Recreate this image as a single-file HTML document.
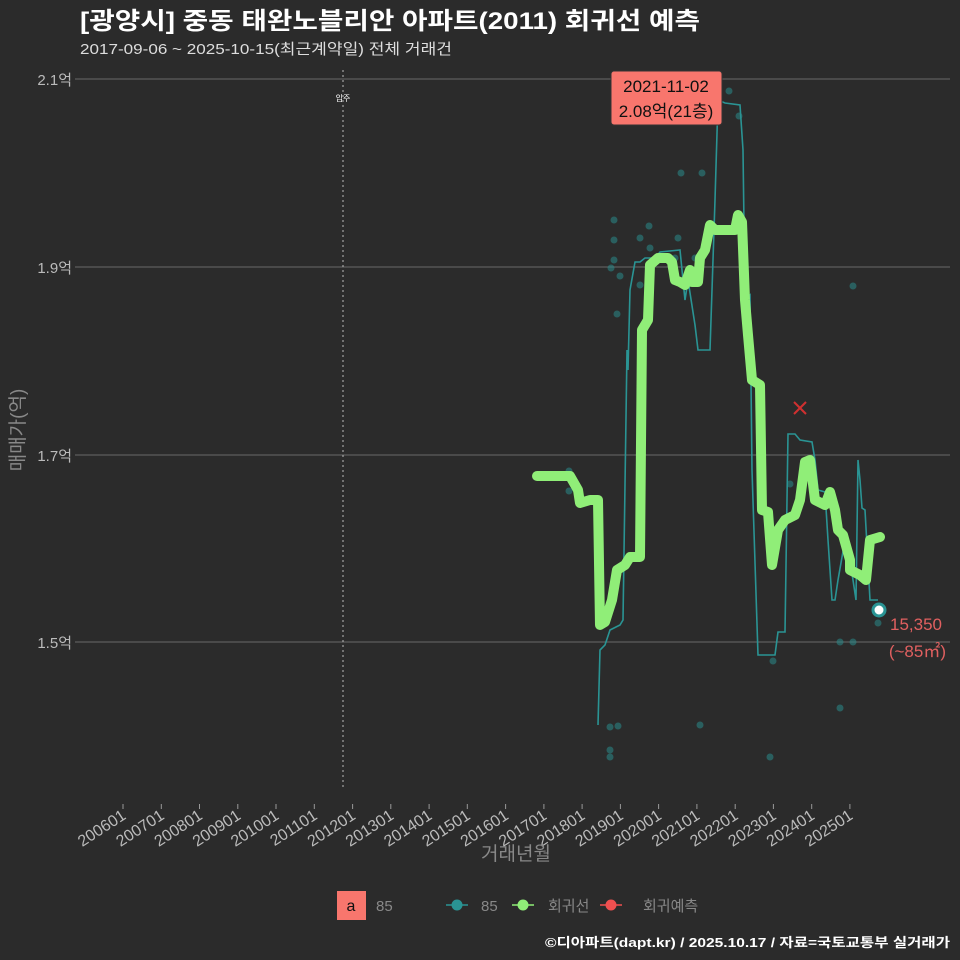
<!DOCTYPE html>
<html><head><meta charset="utf-8"><style>
body{margin:0;background:#2b2b2b;}
svg{display:block;font-family:"Liberation Sans","Noto Sans CJK KR",sans-serif;}
</style></head><body>
<svg width="960" height="960" viewBox="0 0 960 960">
<rect width="960" height="960" fill="#2b2b2b"/>
<text x="80" y="29" font-size="24" font-weight="bold" fill="#fff" textLength="620" lengthAdjust="spacingAndGlyphs">[광양시] 중동 태완노블리안 아파트(2011) 회귀선 예측</text>
<text x="80" y="54" font-size="15" fill="#ddd" textLength="372" lengthAdjust="spacingAndGlyphs">2017-09-06 ~ 2025-10-15(최근계약일) 전체 거래건</text>
<g stroke="#6a6a6a" stroke-width="1">
<line x1="75" y1="79" x2="950" y2="79"/><line x1="75" y1="267" x2="950" y2="267"/>
<line x1="75" y1="455" x2="950" y2="455"/><line x1="75" y1="642" x2="950" y2="642"/>
</g>
<g font-size="15" fill="#bbb" text-anchor="end">
<text x="72" y="85">2.1억</text><text x="72" y="273">1.9억</text><text x="72" y="461">1.7억</text><text x="72" y="648">1.5억</text>
</g>
<text transform="translate(24,430) rotate(-90)" font-size="19" fill="#888" text-anchor="middle">매매가(억)</text>
<line x1="343" y1="70" x2="343" y2="790" stroke="#bbb" stroke-dasharray="2,3"/>
<text x="343" y="101" font-size="8" fill="#fff" text-anchor="middle">입주</text>
<g stroke="#999" font-size="16" fill="#bbb">
<line x1="123" y1="804" x2="123" y2="809"/><text x="127" y="818" text-anchor="end" stroke="none" transform="rotate(-33 127 818)">200601</text>
<line x1="161.3" y1="804" x2="161.3" y2="809"/><text x="165.3" y="818" text-anchor="end" stroke="none" transform="rotate(-33 165.3 818)">200701</text>
<line x1="199.5" y1="804" x2="199.5" y2="809"/><text x="203.5" y="818" text-anchor="end" stroke="none" transform="rotate(-33 203.5 818)">200801</text>
<line x1="237.8" y1="804" x2="237.8" y2="809"/><text x="241.8" y="818" text-anchor="end" stroke="none" transform="rotate(-33 241.8 818)">200901</text>
<line x1="276" y1="804" x2="276" y2="809"/><text x="280" y="818" text-anchor="end" stroke="none" transform="rotate(-33 280 818)">201001</text>
<line x1="314.3" y1="804" x2="314.3" y2="809"/><text x="318.3" y="818" text-anchor="end" stroke="none" transform="rotate(-33 318.3 818)">201101</text>
<line x1="352.6" y1="804" x2="352.6" y2="809"/><text x="356.6" y="818" text-anchor="end" stroke="none" transform="rotate(-33 356.6 818)">201201</text>
<line x1="390.8" y1="804" x2="390.8" y2="809"/><text x="394.8" y="818" text-anchor="end" stroke="none" transform="rotate(-33 394.8 818)">201301</text>
<line x1="429.1" y1="804" x2="429.1" y2="809"/><text x="433.1" y="818" text-anchor="end" stroke="none" transform="rotate(-33 433.1 818)">201401</text>
<line x1="467.3" y1="804" x2="467.3" y2="809"/><text x="471.3" y="818" text-anchor="end" stroke="none" transform="rotate(-33 471.3 818)">201501</text>
<line x1="505.6" y1="804" x2="505.6" y2="809"/><text x="509.6" y="818" text-anchor="end" stroke="none" transform="rotate(-33 509.6 818)">201601</text>
<line x1="543.9" y1="804" x2="543.9" y2="809"/><text x="547.9" y="818" text-anchor="end" stroke="none" transform="rotate(-33 547.9 818)">201701</text>
<line x1="582.1" y1="804" x2="582.1" y2="809"/><text x="586.1" y="818" text-anchor="end" stroke="none" transform="rotate(-33 586.1 818)">201801</text>
<line x1="620.4" y1="804" x2="620.4" y2="809"/><text x="624.4" y="818" text-anchor="end" stroke="none" transform="rotate(-33 624.4 818)">201901</text>
<line x1="658.6" y1="804" x2="658.6" y2="809"/><text x="662.6" y="818" text-anchor="end" stroke="none" transform="rotate(-33 662.6 818)">202001</text>
<line x1="696.9" y1="804" x2="696.9" y2="809"/><text x="700.9" y="818" text-anchor="end" stroke="none" transform="rotate(-33 700.9 818)">202101</text>
<line x1="735.2" y1="804" x2="735.2" y2="809"/><text x="739.2" y="818" text-anchor="end" stroke="none" transform="rotate(-33 739.2 818)">202201</text>
<line x1="773.4" y1="804" x2="773.4" y2="809"/><text x="777.4" y="818" text-anchor="end" stroke="none" transform="rotate(-33 777.4 818)">202301</text>
<line x1="811.7" y1="804" x2="811.7" y2="809"/><text x="815.7" y="818" text-anchor="end" stroke="none" transform="rotate(-33 815.7 818)">202401</text>
<line x1="849.9" y1="804" x2="849.9" y2="809"/><text x="853.9" y="818" text-anchor="end" stroke="none" transform="rotate(-33 853.9 818)">202501</text>
</g>
<text x="516" y="860" font-size="19" fill="#888" text-anchor="middle">거래년월</text>
<g fill="#2a8a8a" opacity="0.55">
<circle cx="569" cy="471" r="3.5"/><circle cx="569" cy="491" r="3.5"/><circle cx="610" cy="727" r="3.5"/><circle cx="610" cy="750" r="3.5"/><circle cx="610" cy="757" r="3.5"/><circle cx="618" cy="726" r="3.5"/><circle cx="614" cy="220" r="3.5"/><circle cx="614" cy="240" r="3.5"/><circle cx="614" cy="260" r="3.5"/><circle cx="611" cy="268" r="3.5"/><circle cx="620" cy="276" r="3.5"/><circle cx="617" cy="314" r="3.5"/><circle cx="640" cy="285" r="3.5"/><circle cx="640" cy="238" r="3.5"/><circle cx="650" cy="248" r="3.5"/><circle cx="649" cy="226" r="3.5"/><circle cx="678" cy="238" r="3.5"/><circle cx="681" cy="173" r="3.5"/><circle cx="702" cy="173" r="3.5"/><circle cx="675" cy="258" r="3.5"/><circle cx="695" cy="258" r="3.5"/><circle cx="700" cy="725" r="3.5"/><circle cx="729" cy="91" r="3.5"/><circle cx="739" cy="116" r="3.5"/><circle cx="853" cy="286" r="3.5"/><circle cx="773" cy="661" r="3.5"/><circle cx="770" cy="757" r="3.5"/><circle cx="840" cy="708" r="3.5"/><circle cx="840" cy="642" r="3.5"/><circle cx="853" cy="642" r="3.5"/><circle cx="878" cy="623" r="3.5"/><circle cx="760" cy="472" r="3.5"/><circle cx="790" cy="484" r="3.5"/>
</g>
<polyline fill="none" stroke="#2a9494" stroke-width="1.6" points="598,725 600,650 605,645 610,630 620,625 623,620 627,350 628,370 630,290 635,262 640,262 645,258 655,258 660,252 680,250 685,300 688,280 695,325 698,350 710,350 715,200 718,100 725,103 740,105 743,150 745,300 750,295 752,470 758,655 775,655 778,632 785,632 788,434 795,434 800,440 812,442 815,460 818,490 825,492 828,540 832,600 835,600 838,580 845,540 850,560 856,600 858,460 860,480 862,508 865,510 870,600 878,600"/>
<polyline fill="none" stroke="#90ee78" stroke-width="10" stroke-linejoin="round" stroke-linecap="round" points="537,476 570,476 578,490 580,503 590,500 598,500 600,625 605,622 612,600 617,570 625,565 630,557 640,557 642,330 648,320 650,265 658,258 668,258 672,262 675,280 680,282 685,285 690,270 692,282 698,282 700,258 705,250 710,225 715,230 735,230 738,215 742,222 745,300 748,335 752,380 760,385 762,510 768,512 772,565 778,530 785,520 795,515 800,500 805,462 810,460 815,500 825,505 830,492 835,510 838,530 843,535 850,560 850,570 860,575 866,580 870,540 880,537"/>
<g stroke="#d03030" stroke-width="2"><line x1="794" y1="402" x2="806" y2="414"/><line x1="806" y1="402" x2="794" y2="414"/></g>
<circle cx="879" cy="610" r="6" fill="#fff" stroke="#2a9494" stroke-width="3"/>
<text x="942" y="630" font-size="17" fill="#e06060" text-anchor="end">15,350</text>
<text x="946" y="657" font-size="17" fill="#e06060" text-anchor="end">(~85㎡)</text>
<rect x="611" y="71" width="111" height="54" rx="3" fill="#f8766d" stroke="#333"/>
<text x="666" y="92" font-size="17" fill="#111" text-anchor="middle">2021-11-02</text>
<text x="666" y="117" font-size="17" fill="#111" text-anchor="middle">2.08억(21층)</text>
<rect x="337" y="891" width="29" height="29" fill="#f8766d"/>
<text x="351" y="911" font-size="16" fill="#111" text-anchor="middle">a</text>
<text x="376" y="911" font-size="15" fill="#888">85</text>
<g stroke-width="1.5"><line x1="446" y1="905" x2="468" y2="905" stroke="#2a9494"/><circle cx="457" cy="905" r="5.5" fill="#2a9494"/>
<line x1="512" y1="905" x2="534" y2="905" stroke="#90ee78"/><circle cx="523" cy="905" r="5.5" fill="#90ee78"/>
<line x1="600" y1="905" x2="622" y2="905" stroke="#f05050"/><circle cx="611" cy="905" r="5.5" fill="#f05050"/></g>
<text x="481" y="911" font-size="15" fill="#888">85</text>
<text x="548" y="911" font-size="15" fill="#888">회귀선</text>
<text x="643" y="911" font-size="15" fill="#888">회귀예측</text>
<text x="950" y="947" font-size="13" font-weight="bold" fill="#fff" text-anchor="end" textLength="405" lengthAdjust="spacingAndGlyphs">©디아파트(dapt.kr) / 2025.10.17 / 자료=국토교통부 실거래가</text>
</svg>
</body></html>
